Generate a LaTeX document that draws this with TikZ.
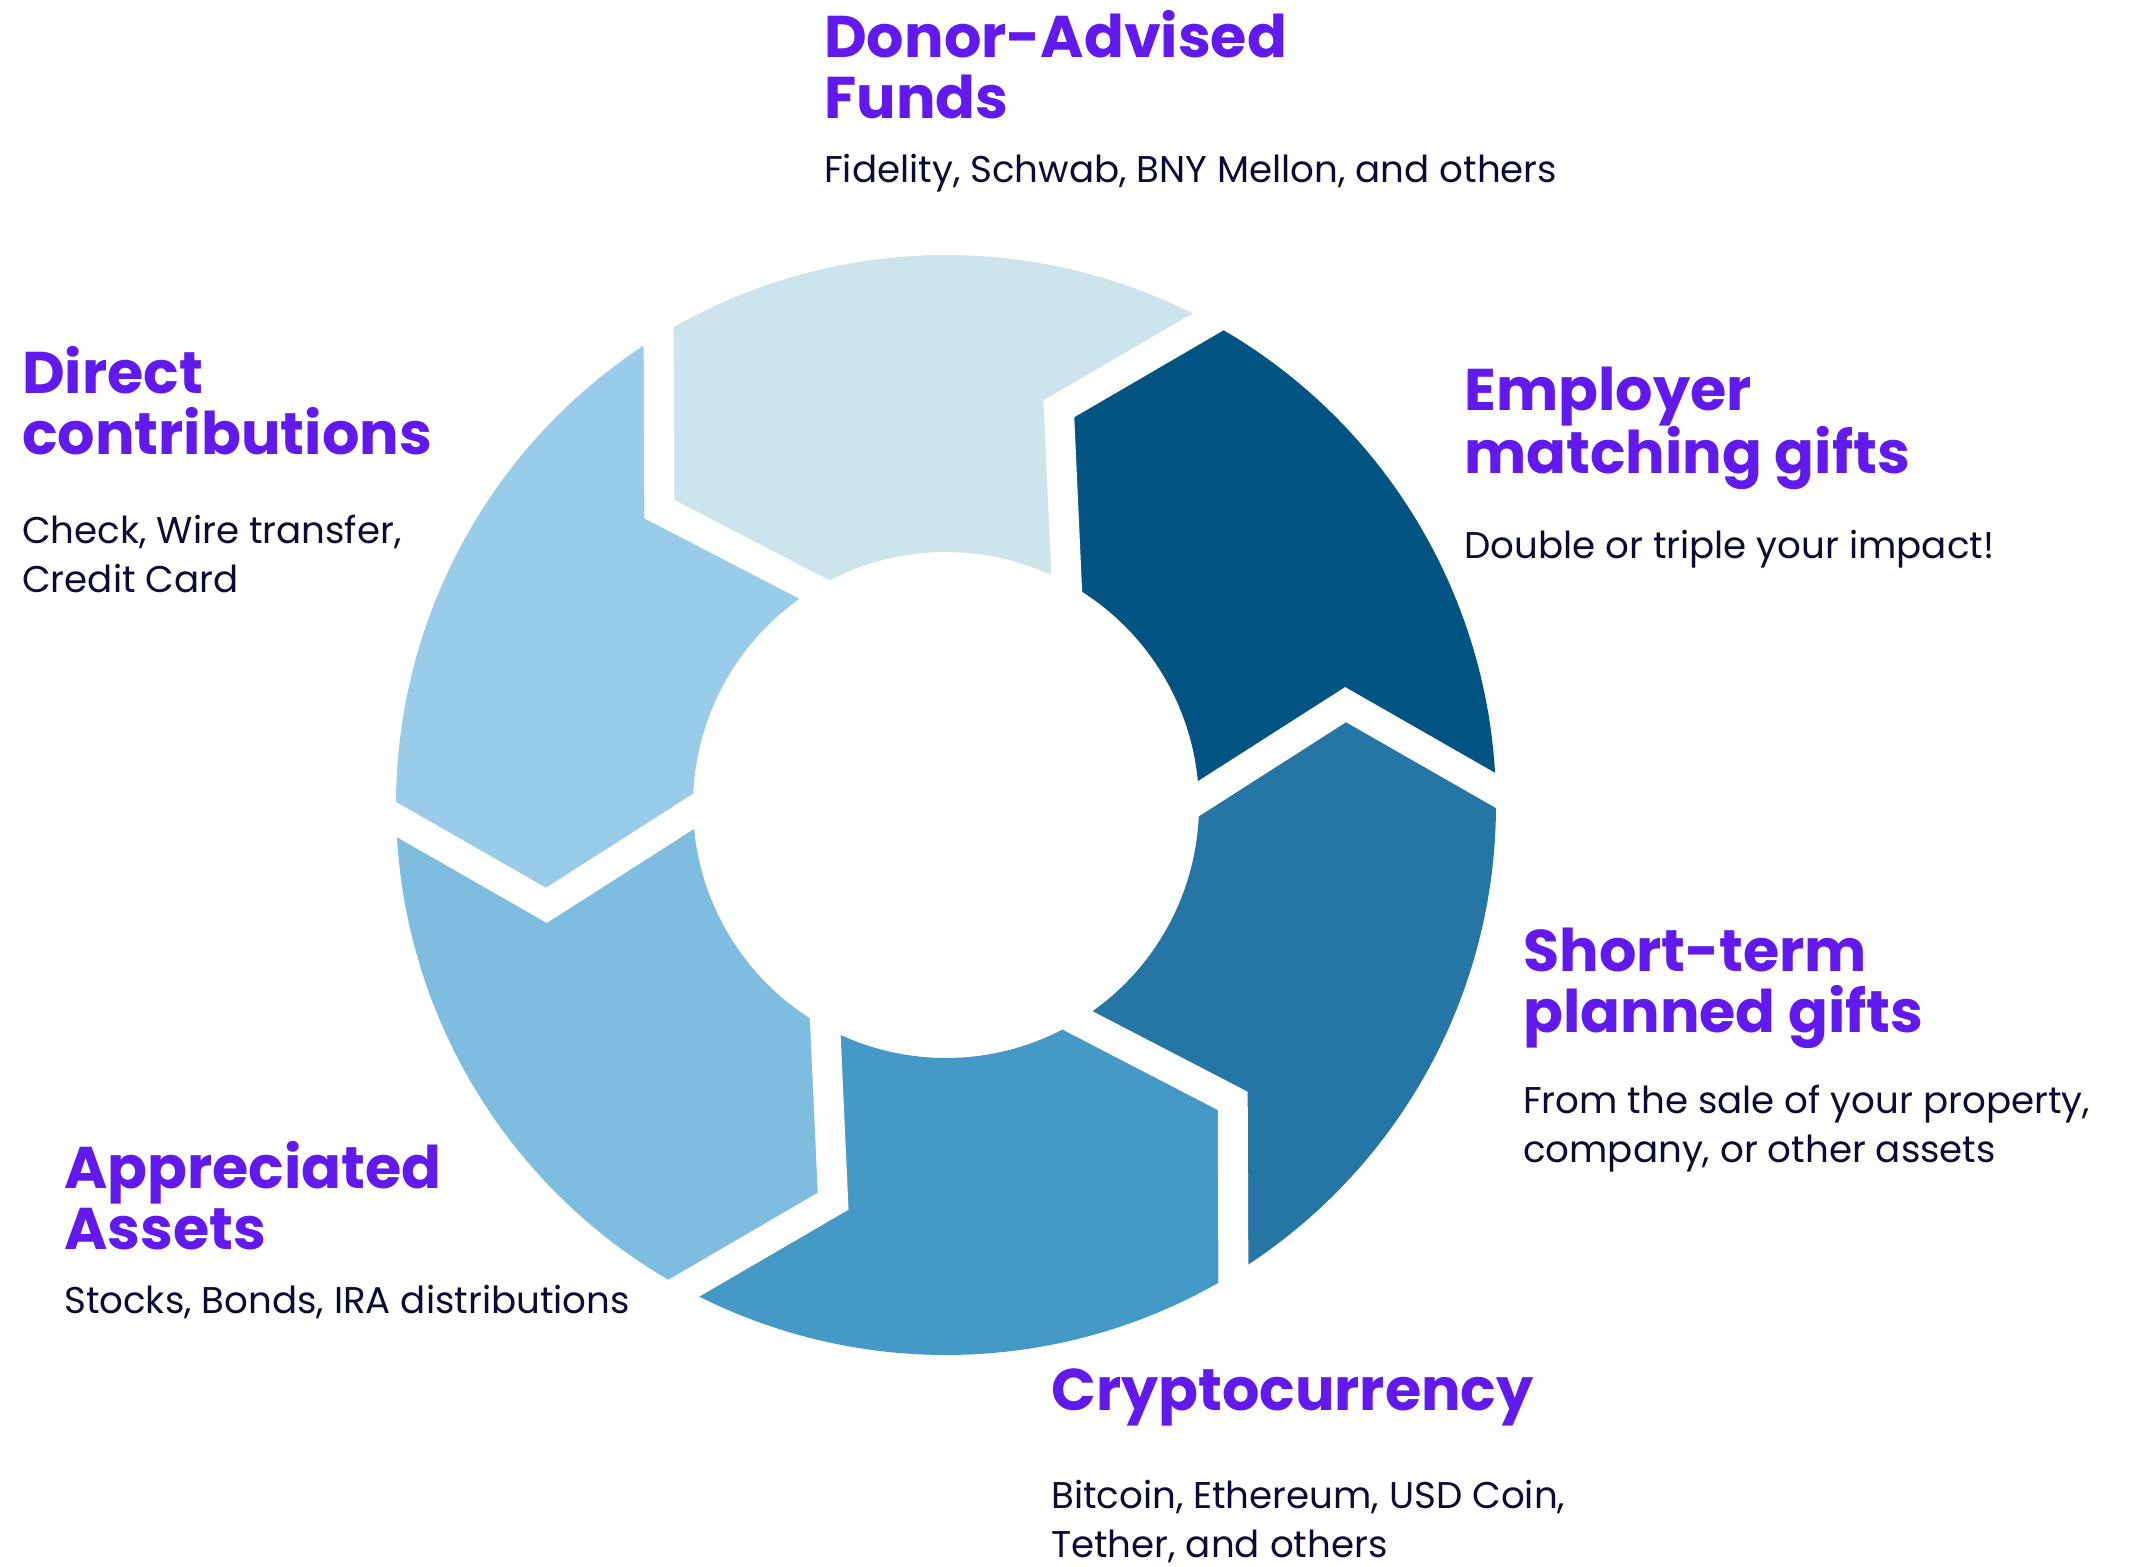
\documentclass[tikz,border=0pt]{standalone}
\usepackage{fontspec}
\setmainfont{Poppins}
\usetikzlibrary{calc}
\definecolor{ttl}{HTML}{6119EE}
\definecolor{txt}{HTML}{0B0B35}
\definecolor{cEmp}{HTML}{035482}
\definecolor{cDaf}{HTML}{CEE4EC}
\definecolor{cDir}{HTML}{98CCE8}
\definecolor{cApp}{HTML}{7FBDE0}
\definecolor{cCry}{HTML}{4499C6}
\definecolor{cSht}{HTML}{2676A5}
\begin{document}
\begin{tikzpicture}[x=1pt,y=-1pt,
  title/.style={inner sep=0pt, anchor=base west, text=ttl, font=\fontsize{58.8}{61}\selectfont\bfseries},
  body/.style={inner sep=0pt, anchor=base west, text=txt, font=\fontsize{37.2}{49}\selectfont},
  gapline/.style={draw=white, line width=30pt, line join=miter, shorten >=-40pt, shorten <=-40pt}]
\useasboundingbox (0,0) rectangle (2135,1566);
\fill[white] (0,0) rectangle (2135,1566);
\begin{scope}[shift={(946,805)}, y=1pt]
  \foreach \b/\c in {1.5/cEmp, 61.5/cDaf, 121.5/cDir, 181.5/cApp, 241.5/cCry, 301.5/cSht} {
    \pgfmathsetmacro\e{\b+60}
    \pgfmathsetmacro\ep{\b+72.6}
    \pgfmathsetmacro\bp{\b+12.6}
    \fill[\c] (\b:550) arc[start angle=\b, end angle=\e, radius=550]
      -- (\ep:412) -- (\e:253)
      arc[start angle=\e, end angle=\b, radius=253]
      -- (\bp:412) -- cycle;
  }
  \foreach \b in {1.5, 61.5, 121.5, 181.5, 241.5, 301.5} {
    \pgfmathsetmacro\bp{\b+12.6}
    \draw[gapline] (\b:550) -- (\bp:412) -- (\b:253);
  }
\end{scope}
\node[title] (dafT) at (824,57) {\vtop{\hbox{Donor-Advised}\hbox{Funds}}};
\node[body] (dafB) at (824,182) {Fidelity, Schwab, BNY Mellon, and others};
\node[title] (dirT) at (22,393) {\vtop{\hbox{Direct}\hbox{contributions}}};
\node[body] (dirB) at (22,543) {\vtop{\hbox{Check, Wire transfer,}\hbox{Credit Card}}};
\node[title] (empT) at (1464,410) {\vtop{\hbox{Employer}\hbox{matching gifts}}};
\node[body] (empB) at (1464,558) {Double or triple your impact!};
\node[title] (stT) at (1523,971) {\vtop{\hbox{Short-term}\hbox{planned gifts}}};
\node[body] (stB) at (1523,1113) {\vtop{\hbox{From the sale of your property,}\hbox{company, or other assets}}};
\node[title] (apT) at (64,1188) {\vtop{\hbox{Appreciated}\hbox{Assets}}};
\node[body] (apB) at (64,1313) {Stocks, Bonds, IRA distributions};
\node[title] (crT) at (1051,1410) {Cryptocurrency};
\node[body] (crB) at (1051,1508) {\vtop{\hbox{Bitcoin, Ethereum, USD Coin,}\hbox{Tether, and others}}};
\end{tikzpicture}
\end{document}
